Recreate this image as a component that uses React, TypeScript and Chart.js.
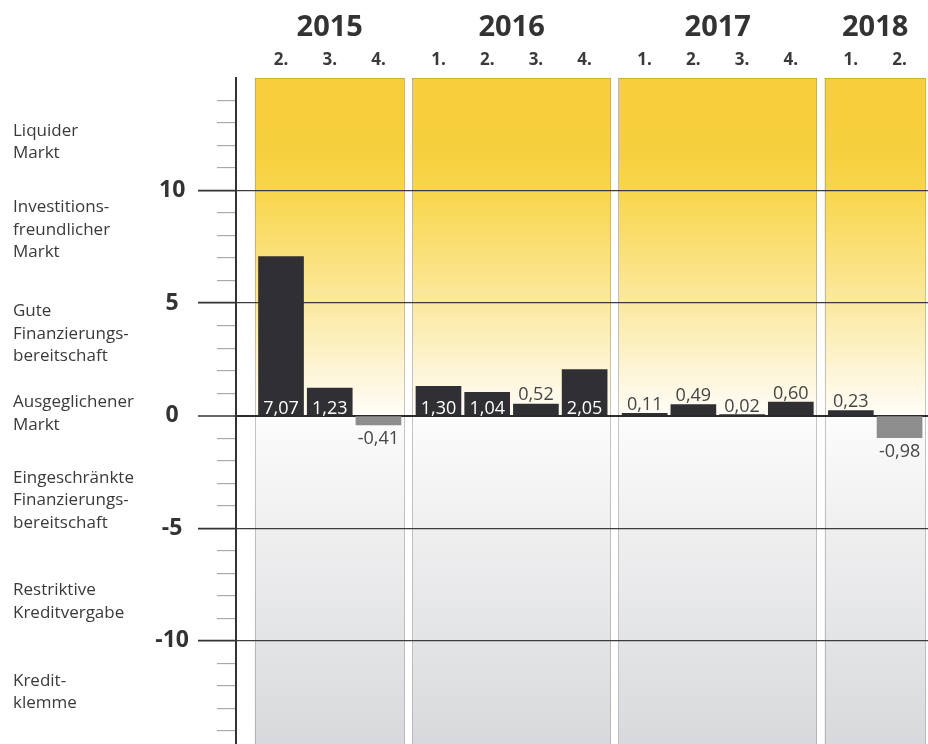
import React, { useEffect, useRef } from "react";
import { Chart, registerables } from "chart.js";

Chart.register(...registerables);

// ---- data ----
const years = ["2015", "2016", "2017", "2018"];
const quarterLabels = ["2.", "3.", "4.", "1.", "2.", "3.", "4.", "1.", "2.", "3.", "4.", "1.", "2."];
const quarterYear = [0, 0, 0, 1, 1, 1, 1, 2, 2, 2, 2, 3, 3];
const indexValues = [7.07, 1.23, -0.41, 1.3, 1.04, 0.52, 2.05, 0.11, 0.49, 0.02, 0.6, 0.23, -0.98];
const yTickLabels = [10, 5, 0, -5, -10];
const zoneLines = [
  ["Liquider", "Markt"],
  ["Investitions-", "freundlicher", "Markt"],
  ["Gute", "Finanzierungs-", "bereitschaft"],
  ["Ausgeglichener", "Markt"],
  ["Eingeschränkte", "Finanzierungs-", "bereitschaft"],
  ["Restriktive", "Kreditvergabe"],
  ["Kredit-", "klemme"],
];
const zoneCenters = [12.16, 8.25, 3.63, 0.09, -3.76, -8.27, -12.27];

// ---- layout & style ----
const FONT = "'Open Sans', 'Noto Sans', sans-serif";
const YEAR_GAP = 0.232;
const PANEL_HALF = 0.538;
const X_MIN = -0.924;
const X_MAX = 13.28;
const Y_MIN = -15;
const Y_MAX = 15;
const AXIS_WIDTH = 236;
const BAR_DARK = "#2f2f34";
const BAR_NEG = "#8d8d8d";
const TEXT_DARK = "#333333";
const PANEL_STOPS: [number, string][] = [
  [15, "#F7CE3B"],
  [11.5, "#F7D03F"],
  [10, "#F8D64B"],
  [7.5, "#FADF74"],
  [5, "#FBE9A0"],
  [2, "#FDF5D6"],
  [0.05, "#FFFDF6"],
  [-0.05, "#FCFCFC"],
  [-5, "#EFEFF0"],
  [-10, "#E3E4E6"],
  [-15, "#D7D8DB"],
];

const xPositions = indexValues.map((_, i) => i + quarterYear[i] * YEAR_GAP);
const fmt = (v: number) => v.toFixed(2).replace(".", ",");
const isMajor = (v: any) => yTickLabels.includes(Number(v));

const panelPlugin = {
  id: "yearPanels",
  beforeDraw(chart: any) {
    const { ctx, chartArea, scales } = chart;
    const xs = scales.x;
    const ys = scales.y;
    const top = chartArea.top;
    const bottom = chartArea.bottom;
    const grad = ctx.createLinearGradient(0, top, 0, bottom);
    PANEL_STOPS.forEach(([v, c]) => {
      const t = (ys.getPixelForValue(v) - top) / (bottom - top);
      grad.addColorStop(Math.min(1, Math.max(0, t)), c);
    });
    ctx.save();
    years.forEach((_, yi) => {
      const idx = quarterYear.map((q, i) => (q === yi ? i : -1)).filter((i) => i >= 0);
      const left = xs.getPixelForValue(xPositions[idx[0]] - PANEL_HALF);
      const right = xs.getPixelForValue(xPositions[idx[idx.length - 1]] + PANEL_HALF);
      ctx.fillStyle = grad;
      ctx.fillRect(left, top, right - left, bottom - top);
      ctx.strokeStyle = "rgba(150,150,150,0.55)";
      ctx.lineWidth = 1;
      ctx.beginPath();
      ctx.moveTo(Math.round(left) + 0.5, top);
      ctx.lineTo(Math.round(left) + 0.5, bottom);
      ctx.moveTo(Math.round(right) - 0.5, top);
      ctx.lineTo(Math.round(right) - 0.5, bottom);
      ctx.stroke();
      ctx.strokeStyle = "rgba(190,150,40,0.6)";
      ctx.beginPath();
      ctx.moveTo(left, top + 0.5);
      ctx.lineTo(right, top + 0.5);
      ctx.stroke();
    });
    ctx.restore();
  },
};

const textPlugin = {
  id: "chartTexts",
  afterDraw(chart: any) {
    const { ctx, scales } = chart;
    const xs = scales.x;
    const ys = scales.y;
    ctx.save();

    // year headers
    ctx.fillStyle = TEXT_DARK;
    ctx.textAlign = "center";
    ctx.textBaseline = "alphabetic";
    ctx.font = `bold 29px ${FONT}`;
    years.forEach((y, yi) => {
      const idx = quarterYear.map((q, i) => (q === yi ? i : -1)).filter((i) => i >= 0);
      const cx = (xs.getPixelForValue(xPositions[idx[0]]) + xs.getPixelForValue(xPositions[idx[idx.length - 1]])) / 2;
      ctx.fillText(y, cx, 36);
    });

    // quarter headers
    ctx.font = `bold 17px ${FONT}`;
    ctx.fillStyle = "#3a3a3a";
    quarterLabels.forEach((q, i) => {
      ctx.fillText(q, xs.getPixelForValue(xPositions[i]), 65);
    });

    // zone descriptions
    ctx.font = `17px ${FONT}`;
    ctx.fillStyle = "#3a3a3a";
    ctx.textAlign = "left";
    ctx.textBaseline = "middle";
    const lh = 22.5;
    zoneLines.forEach((lines, zi) => {
      const cy = ys.getPixelForValue(zoneCenters[zi]);
      lines.forEach((ln, li) => {
        ctx.fillText(ln, 13, cy + (li - (lines.length - 1) / 2) * lh);
      });
    });

    // value labels
    ctx.font = `18px ${FONT}`;
    ctx.textAlign = "center";
    ctx.textBaseline = "alphabetic";
    const zero = ys.getPixelForValue(0);
    indexValues.forEach((v, i) => {
      const x = xs.getPixelForValue(xPositions[i]);
      const p = ys.getPixelForValue(v);
      if (v >= 1) {
        ctx.fillStyle = "#ffffff";
        ctx.fillText(fmt(v), x, zero - 2);
      } else if (v >= 0) {
        ctx.fillStyle = "#454545";
        ctx.fillText(fmt(v), x, p - 3.5);
      } else {
        ctx.fillStyle = "#454545";
        ctx.fillText(fmt(v), x, p + 19);
      }
    });
    ctx.restore();
  },
};

export default function App() {
  const canvasRef = useRef<HTMLCanvasElement | null>(null);

  useEffect(() => {
    if (!canvasRef.current) return;
    const chart = new Chart(canvasRef.current, {
      type: "bar",
      data: {
        datasets: [
          {
            data: indexValues.map((v, i) => ({ x: xPositions[i], y: v })),
            backgroundColor: indexValues.map((v) => (v < 0 ? BAR_NEG : BAR_DARK)),
            barThickness: 45,
            borderWidth: 0,
          },
        ],
      },
      options: {
        responsive: false,
        animation: false,
        devicePixelRatio: 1,
        layout: { padding: { top: 78, bottom: 7, left: 0, right: 0 } },
        plugins: { legend: { display: false }, tooltip: { enabled: false } },
        scales: {
          x: {
            type: "linear",
            min: X_MIN,
            max: X_MAX,
            offset: false,
            display: false,
          },
          y: {
            type: "linear",
            min: Y_MIN,
            max: Y_MAX,
            afterFit: (scale: any) => {
              scale.width = AXIS_WIDTH;
            },
            border: { display: true, color: "#333333", width: 2 },
            grid: {
              drawOnChartArea: true,
              drawTicks: true,
              tickLength: 38,
              color: (c: any) => {
                const v = c.tick?.value;
                if (v === 0) return "#2b2b2b";
                if (isMajor(v)) return "#3c3c3c";
                return "rgba(0,0,0,0)";
              },
              lineWidth: (c: any) => (c.tick?.value === 0 ? 2 : 1.3),
              tickColor: (c: any) => {
                const v = c.tick?.value;
                if (v === Y_MAX || v === Y_MIN) return "rgba(0,0,0,0)";
                return isMajor(v) ? "#333333" : "#9a9a9a";
              },
              tickWidth: (c: any) => (isMajor(c.tick?.value) ? 1.6 : 1),
              tickBorderDash: (c: any) => (isMajor(c.tick?.value) ? [] : [0, 19, 19, 0]),
            },
            ticks: {
              stepSize: 1,
              maxTicksLimit: 100,
              autoSkip: false,
              padding: 9,
              crossAlign: "center",
              color: TEXT_DARK,
              font: (c: any) =>
                isMajor(c.tick?.value)
                  ? { family: FONT, size: 23, weight: "bold" }
                  : { family: FONT, size: 1 },
              callback: (v: any) => (isMajor(v) ? String(v) : ""),
            },
          },
        },
      },
      plugins: [panelPlugin, textPlugin],
    } as any);
    return () => chart.destroy();
  }, []);

  return (
    <div style={{ position: "fixed", top: 0, left: 0, width: 928, height: 744, overflow: "hidden", background: "#ffffff" }}>
      <canvas ref={canvasRef} width={928} height={763} style={{ display: "block" }} />
    </div>
  );
}
